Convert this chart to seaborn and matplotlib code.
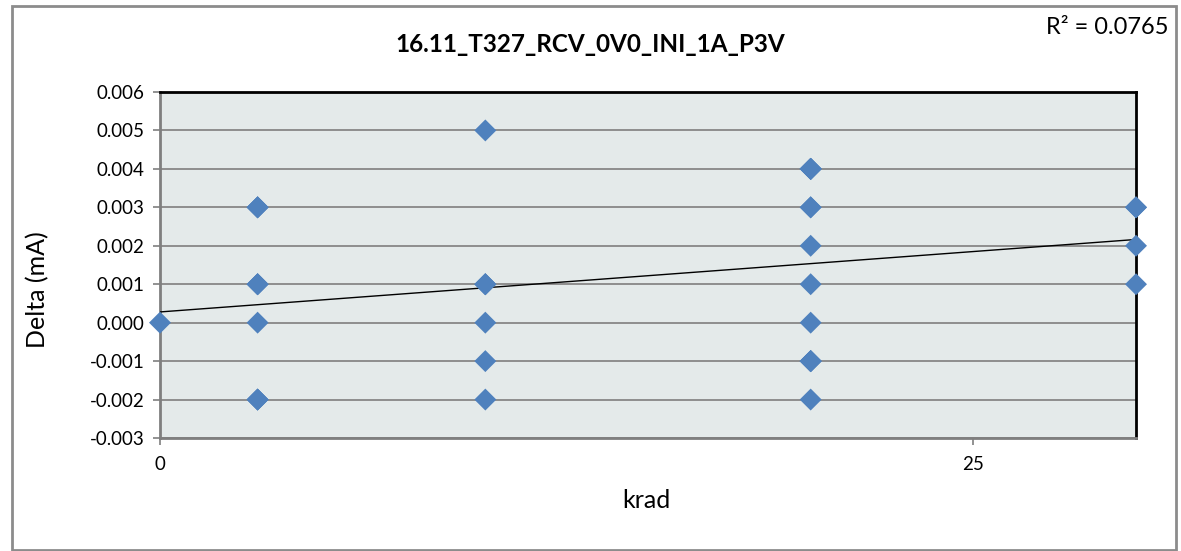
import numpy as np
import pandas as pd
import matplotlib
matplotlib.use("Agg")
import matplotlib.pyplot as plt
from matplotlib.patches import Rectangle
import seaborn as sns

# Measured current deltas (mA) per total dose step (krad)
dose_0 = [0.000]
dose_3 = [0.003, 0.003, 0.003, 0.001, 0.001, 0.001, 0.000, -0.002, -0.002, -0.002]
dose_10 = [0.005, 0.001, 0.001, 0.001, 0.000, -0.001, -0.002]
dose_20 = [0.004, 0.004, 0.004, 0.004, 0.004, 0.003, 0.003, 0.002, 0.001, 0.000,
           -0.001, -0.001, -0.001, -0.001, -0.002]
dose_30 = [0.003, 0.003, 0.002, 0.001]

dose_levels = [0, 3, 10, 20, 30]
y_ticks = [-0.003, -0.002, -0.001, 0.000, 0.001, 0.002, 0.003, 0.004, 0.005, 0.006]
x_ticks = [0, 25]
title = "16.11_T327_RCV_0V0_INI_1A_P3V"

groups = [dose_0, dose_3, dose_10, dose_20, dose_30]
df = pd.DataFrame({
    "krad": np.concatenate([[d] * len(g) for d, g in zip(dose_levels, groups)]),
    "delta": np.concatenate(groups),
})

# Linear trend and coefficient of determination
slope, intercept = np.polyfit(df["krad"], df["delta"], 1)
pred = intercept + slope * df["krad"]
ss_res = np.sum((df["delta"] - pred) ** 2)
ss_tot = np.sum((df["delta"] - df["delta"].mean()) ** 2)
r2 = 1 - ss_res / ss_tot

W, H = 1181, 551
fig = plt.figure(figsize=(W / 100, H / 100), dpi=100)
plt.rcParams["font.family"] = ["Lato", "DejaVu Sans"]

left, right, top, bottom = 160, 1136, 92, 438
ax = fig.add_axes([left / W, 1 - bottom / H, (right - left) / W, (bottom - top) / H])
ax.set_facecolor("#E4EAEA")

ax.set_xlim(0, 30)
ax.set_ylim(-0.003, 0.006)
ax.set_yticks(y_ticks)
ax.set_yticklabels([f"{v:.3f}" for v in y_ticks])
ax.set_xticks(x_ticks)
ax.set_xticklabels([str(v) for v in x_ticks])
ax.yaxis.grid(True, color="#8E8E8E", linewidth=1.4)
ax.xaxis.grid(False)
ax.set_axisbelow(True)

# Trend line across the full dose range
xs = np.array([0, 30])
ax.plot(xs, intercept + slope * xs, color="black", linewidth=1.0, zorder=3)

sns.scatterplot(data=df, x="krad", y="delta", marker="D", s=125,
                color="#4F81BD", edgecolor="none", linewidth=0,
                ax=ax, zorder=4, clip_on=False, legend=False)

ax.set_xlabel("")
ax.set_ylabel("")
for side in ("left", "bottom"):
    ax.spines[side].set_color("#7F7F7F")
    ax.spines[side].set_linewidth(2)
for side in ("top", "right"):
    ax.spines[side].set_color("black")
    ax.spines[side].set_linewidth(2)

ax.tick_params(axis="both", direction="out", length=5, width=1.2,
               color="#7F7F7F", labelsize=13.5, labelcolor="black")
ax.tick_params(axis="y", pad=6)
ax.tick_params(axis="x", pad=8)

fig.text(590 / W, 1 - 44 / H, title, ha="center", va="center",
         fontsize=17.5, fontweight="bold")
fig.text(38 / W, 1 - 290 / H, "Delta (mA)", ha="center", va="center",
         rotation=90, fontsize=18)
fig.text(646 / W, 1 - 500 / H, "krad", ha="center", va="center", fontsize=18)
fig.text(1168 / W, 1 - 28 / H, f"R² = {r2:.4f}", ha="right", va="center",
         fontsize=17)

# Chart-area frame
fig.add_artist(Rectangle((12 / W, 1 - 550 / H), (1176 - 12) / W, (550 - 6) / H,
                         transform=fig.transFigure, fill=False,
                         edgecolor="#8C8C8C", linewidth=2))

fig.savefig("out.png", dpi=100)
